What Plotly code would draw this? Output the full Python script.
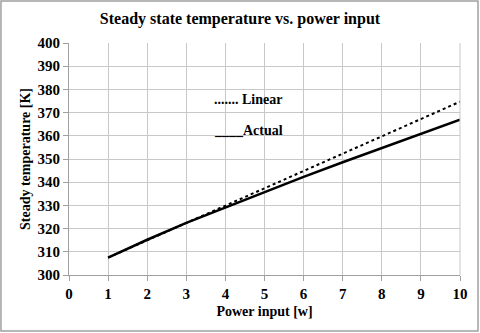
import plotly.graph_objects as go

# data
power = [1, 2, 3, 4, 5, 6, 7, 8, 9, 10]
actual = [307.5, 315.2, 322.5, 329.2, 335.8, 342.3, 348.6, 354.8, 360.9, 366.9]
linear = [307.5, 315.0, 322.4, 329.9, 337.4, 344.8, 352.3, 359.8, 367.2, 374.7]

font = "Liberation Serif"

fig = go.Figure()
fig.add_trace(go.Scatter(x=power, y=linear, mode="lines", name="Linear",
                         line=dict(color="black", width=2, dash="dot")))
fig.add_trace(go.Scatter(x=power, y=actual, mode="lines", name="Actual",
                         line=dict(color="black", width=2.5)))

fig.update_layout(
    width=480, height=333,
    margin=dict(l=69, r=20, t=43, b=58, autoexpand=False),
    paper_bgcolor="white", plot_bgcolor="white",
    showlegend=False,
    font=dict(family=font, color="black", size=13),
    title=dict(text="<b>Steady state temperature vs. power input</b>",
               x=0.5, xanchor="center", y=0.945, yanchor="middle",
               font=dict(family=font, size=16)),
)
fig.update_xaxes(range=[0, 10], dtick=1, showgrid=True, gridcolor="#c8c8c8",
                 gridwidth=1, showline=True, linecolor="#a0a0a0",
                 ticks="outside", ticklen=5, tickcolor="#a0a0a0",
                 tickfont=dict(family=font, size=15, weight="bold"),
                 title=dict(text="<b>Power input [w]</b>", standoff=5,
                            font=dict(family=font, size=14)),
                 zeroline=False, automargin=False)
fig.update_yaxes(range=[300, 400], dtick=10, showgrid=True, gridcolor="#c8c8c8",
                 gridwidth=1, showline=True, linecolor="#a0a0a0",
                 ticks="outside", ticklen=5, tickcolor="#a0a0a0",
                 tickfont=dict(family=font, size=15, weight="bold"),
                 title=dict(text="<b>Steady temperature [K]</b>", standoff=3,
                            font=dict(family=font, size=14)),
                 zeroline=False, automargin=False)

# right edge line of plot area
fig.add_shape(type="line", xref="paper", yref="paper", x0=1, x1=1, y0=0, y1=1,
              line=dict(color="#c8c8c8", width=1))

# legend drawn as text, as in the source chart
fig.add_annotation(x=4.58, y=375.5, xref="x", yref="y", xanchor="center",
                   text="<b>....... Linear</b>", showarrow=False,
                   font=dict(family=font, size=14))
fig.add_annotation(x=4.6, y=362.3, xref="x", yref="y", xanchor="center",
                   text="<b>____Actual</b>", showarrow=False,
                   font=dict(family=font, size=14))

# outer border
fig.add_shape(type="rect", xref="paper", yref="paper",
              x0=-0.174, x1=1.046, y0=-0.241, y1=1.181,
              line=dict(color="#a0a0a0", width=1.5))

fig.write_html("out.html", config={"displayModeBar": False},
               post_script="document.body.style.margin='0';")
